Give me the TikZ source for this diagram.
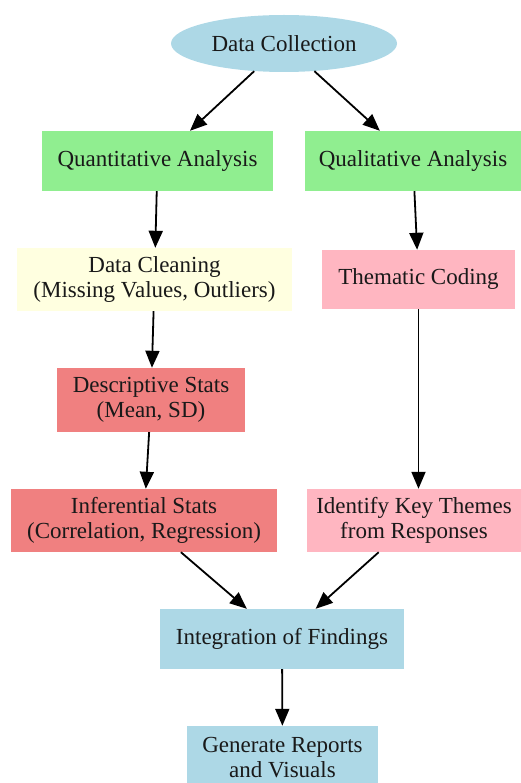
\documentclass[tikz,border=0pt]{standalone}
\usepackage{fontspec}
\setmainfont{Liberation Serif}
\usetikzlibrary{arrows.meta,shapes.geometric}

\definecolor{lblue}{HTML}{ADD8E6}
\definecolor{lgreen}{HTML}{90EE90}
\definecolor{lyellow}{HTML}{FFFFE0}
\definecolor{lcoral}{HTML}{F08080}
\definecolor{lpink}{HTML}{FFB6C1}

\tikzset{
  box/.style={rectangle, inner sep=0pt, align=center, text=black!90,
    font=\fontsize{23}{25}\selectfont},
  oval/.style={ellipse, inner sep=0pt, text=black!90,
    font=\fontsize{23}{25}\selectfont},
  link/.style={line width=1.8pt, -{Triangle[length=17pt,width=14pt]}},
}

\begin{document}
\begin{tikzpicture}[x=1pt, y=-1pt]
  \useasboundingbox (0,0) rectangle (520,783);

  % top ellipse
  \node[oval, fill=lblue, minimum width=226pt, minimum height=57pt] (dc) at (284,43.5) {Data Collection};

  % the two analysis branches
  \node[box, fill=lgreen, minimum width=231pt, minimum height=60pt] (quant) at (157.5,161) {Quantitative Analysis};
  \node[box, fill=lgreen, minimum width=216pt, minimum height=60pt] (qual) at (413,161) {Qualitative Analysis};

  % quantitative path
  \node[box, fill=lyellow, minimum width=275pt, minimum height=63pt] (clean) at (154.5,279.5) {Data Cleaning\\(Missing Values, Outliers)};
  \node[box, fill=lcoral, minimum width=188pt, minimum height=64pt] (desc) at (151,400) {Descriptive Stats\\(Mean, SD)};
  \node[box, fill=lcoral, minimum width=266pt, minimum height=63pt] (infer) at (144,520.5) {Inferential Stats\\(Correlation, Regression)};

  % qualitative path
  \node[box, fill=lpink, minimum width=193pt, minimum height=59pt] (theme) at (418.5,279.5) {Thematic Coding};
  \node[box, fill=lpink, minimum width=214pt, minimum height=63pt] (ident) at (414,520.5) {Identify Key Themes\\from Responses};

  % merge and output
  \node[box, fill=lblue, minimum width=244pt, minimum height=60pt] (integ) at (282,639) {Integration of Findings};
  \node[box, fill=lblue, minimum width=191pt, minimum height=63pt] (report) at (282.5,757.5) {Generate Reports\\and Visuals};

  % connectors
  \draw[link] (dc) -- (quant);
  \draw[link] (dc) -- (qual);
  \draw[link] (quant) -- (clean);
  \draw[link] (qual) -- (theme);
  \draw[link] (clean) -- (desc);
  \draw[link] (theme.south) -- (theme.south |- ident.north);
  \draw[link] (desc) -- (infer);
  \draw[link] (infer) -- (integ);
  \draw[link] (ident) -- (integ);
  \draw[link] (integ) -- (report);
\end{tikzpicture}
\end{document}
